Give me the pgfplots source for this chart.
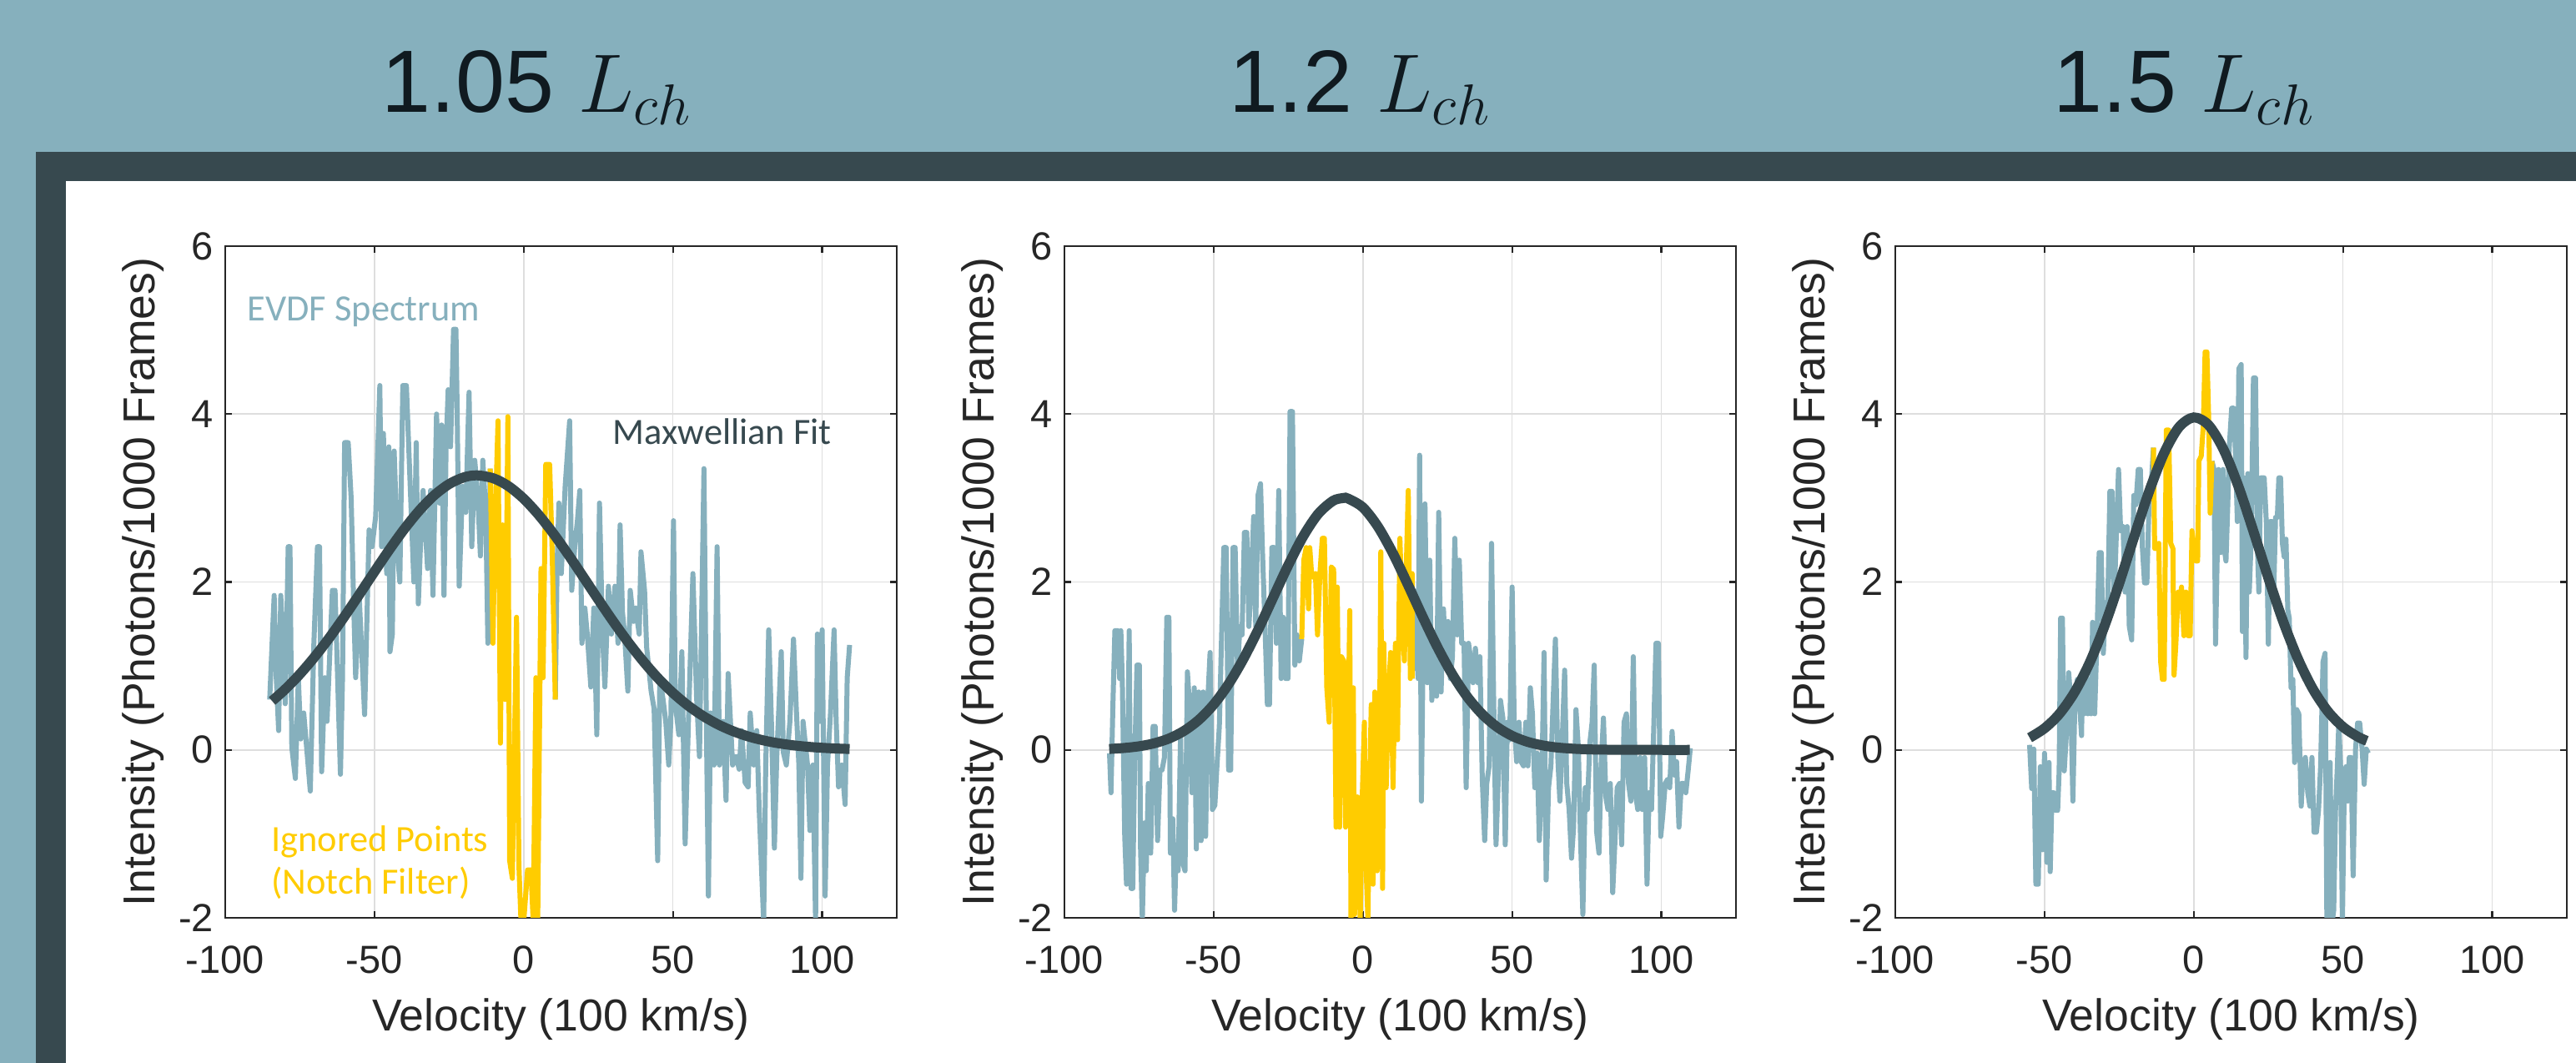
\documentclass[border=0pt]{standalone}
\usepackage{fontspec}
\setmainfont{Liberation Sans}
\newfontfamily\annofont{Carlito}
\usepackage{pgfplots}
\pgfplotsset{compat=1.18}

\definecolor{bgblue}{HTML}{86B0BD}
\definecolor{frame}{HTML}{37494F}
\definecolor{spec}{HTML}{86B0BD}
\definecolor{notch}{HTML}{FFCC00}
\definecolor{fitc}{HTML}{37494F}
\definecolor{axisc}{HTML}{262626}
\definecolor{gridc}{HTML}{DEDEDE}
\definecolor{titlec}{HTML}{101A20}

\pgfplotsset{
  panel/.style={
    scale only axis, width=201.25pt, height=201.25pt, anchor=south west,
    xmin=-100, xmax=125, ymin=-2, ymax=6,
    xtick={-100,-50,0,50,100}, xticklabels={-100,-50,0,50,100},
    ytick={-2,0,2,4,6}, yticklabels={-2,0,2,4,6},
    grid=major, major grid style={line width=0.4pt, draw=gridc},
    axis line style={line width=0.55pt, draw=axisc},
    major tick length=2pt, tick style={line width=0.55pt, draw=axisc},
    tick label style={font=\fontsize{11.75}{14}\selectfont, text=axisc},
    xticklabel style={yshift=-5pt},
    label style={font=\fontsize{13.4}{16}\selectfont, text=axisc},
    xlabel={Velocity (100 km/s)}, ylabel={Intensity (Photons/1000 Frames)},
    xlabel style={at={(axis description cs:0.5,-0.1516)}, anchor=center},
    ylabel style={at={(axis description cs:-0.1217,0.5)}, anchor=center},
  },
  specline/.style={spec, line width=1.5pt, line join=round},
  notchline/.style={notch, line width=1.5pt, line join=round},
  fitline/.style={fitc, line width=3pt, smooth},
}

\begin{document}
\begin{tikzpicture}
\useasboundingbox (0,0) rectangle (772pt,318.5pt);
\fill[bgblue] (0,0) rectangle (772pt,318.5pt);
\fill[frame] (10.75pt,0) rectangle (772pt,273pt);
\fill[white] (19.75pt,0) rectangle (772pt,264.25pt);

% titles
\node[anchor=base west, text=titlec, inner sep=0pt, font=\fontsize{26.5}{30}\selectfont] at (114.25pt,284.75pt) {1.05 $L_{ch}$};
\node[anchor=base west, text=titlec, inner sep=0pt, font=\fontsize{26.5}{30}\selectfont] at (368.25pt,284.75pt) {1.2 $L_{ch}$};
\node[anchor=base west, text=titlec, inner sep=0pt, font=\fontsize{26.5}{30}\selectfont] at (615.25pt,284.75pt) {1.5 $L_{ch}$};

% 1.05 L_ch
\begin{axis}[panel, at={(67.5pt,43.5pt)}]
\addplot[specline] coordinates {
(-85.1,0.60) (-84.3,1.27) (-83.6,1.84) (-82.9,0.86) (-82.1,0.23) (-81.4,1.84) (-80.6,1.27) (-79.9,0.55)
(-78.9,2.42) (-78.3,2.42) (-77.7,0.03) (-76.5,-0.34) (-75.5,0.86) (-74.7,0.13) (-73.7,0.44) (-71.5,-0.49)
(-70.3,1.27) (-69.1,2.42) (-68.4,2.42) (-67.7,-0.26) (-66.6,0.86) (-65.9,0.34) (-64.1,1.90) (-63.2,1.90)
(-61.4,-0.29) (-60.7,0.86) (-60.0,3.66) (-58.8,3.66) (-57.8,2.99) (-57.0,1.79) (-56.3,0.86) (-55.2,1.90)
(-53.3,0.42) (-51.8,2.62) (-50.8,2.42) (-49.6,2.78) (-48.2,4.34) (-47.6,2.42) (-47.0,3.77) (-45.9,2.10)
(-45.2,3.61) (-44.8,1.17) (-44.0,1.38) (-43.4,3.56) (-42.2,2.31) (-41.5,2.00) (-40.5,4.34) (-39.3,4.34)
(-37.8,2.94) (-36.8,2.00) (-36.0,3.66) (-35.3,1.74) (-34.6,2.42) (-33.7,3.09) (-32.2,2.16) (-31.2,3.09)
(-30.4,1.84) (-29.2,4.00) (-28.2,2.94) (-27.5,3.87) (-26.7,1.84) (-26.0,3.61) (-25.3,4.29) (-24.5,3.61)
(-23.5,5.01) (-22.7,5.01) (-22.3,4.08) (-21.6,1.95) (-20.5,3.14) (-19.4,2.83) (-18.3,4.26) (-17.4,2.42)
(-16.4,3.45) (-15.4,3.04) (-14.5,2.31) (-13.7,3.45) (-12.7,2.83) (-12.0,1.27) (-11.2,3.35)
};
\addplot[specline] coordinates {
(10.6,0.60) (11.2,2.21) (11.8,2.94) (12.6,2.10) (13.9,3.14) (15.4,3.92) (16.1,1.90) (17.1,2.42)
(18.0,2.73) (18.8,3.09) (19.5,1.27) (20.5,1.69) (21.3,1.38) (22.5,0.75) (23.5,1.69) (24.5,0.18)
(25.4,2.94) (26.4,1.38) (27.2,0.75) (28.4,1.95) (29.4,1.38) (30.6,1.95) (31.6,1.27) (32.3,2.68)
(33.1,1.64) (33.8,1.38) (34.9,0.70) (35.7,1.90) (36.8,1.53) (37.5,1.69) (38.7,1.38) (39.3,2.36)
(40.5,1.90) (41.2,1.22) (42.7,0.70) (43.7,0.49) (44.9,-1.32) (45.6,0.86) (46.7,0.60) (47.6,0.34)
(48.6,-0.18) (49.3,0.34) (50.2,2.73) (50.8,0.55) (52.0,0.18) (53.0,1.17) (54.1,-1.12) (55.2,0.34)
(56.7,2.10) (57.9,0.65) (58.9,-0.08) (60.4,3.35) (61.2,0.34) (61.9,-1.74) (62.6,0.44) (63.8,-0.18)
(64.8,2.42) (65.6,-0.18) (66.8,0.34) (67.8,-0.60) (68.5,0.91) (70.0,-0.18) (71.2,-0.08) (72.2,-0.23)
(73.0,0.23) (74.2,-0.39) (75.2,-0.44) (75.9,0.44) (77.1,-0.18) (78.1,0.23) (78.9,-0.70) (80.4,-2.05)
(81.1,-0.18) (82.1,1.43) (83.0,0.34) (84.0,-1.17) (84.8,-0.08) (86.3,1.17) (87.0,-0.03) (88.0,-0.18)
(89.2,0.34) (90.4,1.32) (91.4,0.44) (92.2,-0.18) (92.9,-1.53) (93.6,0.34) (95.1,-0.18) (95.9,-0.96)
(96.9,-0.18) (97.8,-2.05) (98.4,1.38) (99.3,0.34) (100.0,1.43) (101.0,-1.74) (101.8,-0.18) (102.8,0.44)
(104.0,1.43) (104.7,0.34) (105.5,-0.44) (106.6,-0.18) (107.7,-0.65) (108.4,0.86) (109.2,1.25)
};
\addplot[notchline] coordinates {
(-11.2,3.35) (-10.3,1.27) (-9.6,2.68) (-8.6,3.92) (-7.8,0.08) (-7.1,2.68) (-6.2,0.60) (-5.3,3.97)
(-4.7,-1.32) (-3.8,-1.53) (-2.4,1.58) (-1.6,-1.38) (-0.9,-2.05) (0.0,-2.05) (1.3,-1.43) (2.4,-1.43)
(3.2,-2.05) (4.1,0.86) (4.7,-2.05) (5.8,2.16) (6.5,0.86) (7.4,3.40) (8.7,3.40) (9.5,2.42) (10.6,0.60)
};
\addplot[fitline] coordinates {
(-84.3,0.583) (-80,0.719) (-75,0.902) (-70,1.110) (-65,1.341) (-60,1.592) (-55,1.855) (-50,2.123)
(-45,2.385) (-40,2.631) (-35,2.850) (-30,3.032) (-25,3.166) (-20,3.247) (-15.6,3.270) (-10,3.233)
(-5,3.139) (0,2.992) (5,2.800) (10,2.574) (15,2.323) (20,2.058) (25,1.791) (30,1.530) (35,1.284)
(40,1.058) (45,0.855) (50,0.679) (55,0.530) (60,0.406) (65,0.305) (70,0.225) (75,0.163) (80,0.116)
(85,0.081) (90,0.056) (95,0.038) (100,0.025) (105,0.016) (109.2,0.011)
};
\node[anchor=base west, inner sep=0pt, text=spec, font=\annofont\fontsize{11.1}{13}\selectfont] at (rel axis cs:0.0323,0.8894) {EVDF Spectrum};
\node[anchor=base west, inner sep=0pt, text=fitc, font=\annofont\fontsize{11.1}{13}\selectfont] at (rel axis cs:0.5762,0.7056) {Maxwellian Fit};
\node[anchor=base west, inner sep=0pt, text=notch, font=\annofont\fontsize{11.1}{13}\selectfont] at (rel axis cs:0.0678,0.0987) {Ignored Points};
\node[anchor=base west, inner sep=0pt, text=notch, font=\annofont\fontsize{11.1}{13}\selectfont] at (rel axis cs:0.0678,0.0348) {(Notch Filter)};
\end{axis}

% 1.2 L_ch
\begin{axis}[panel, at={(319pt,43.5pt)}]
\addplot[specline] coordinates {
(-84.9,-0.04) (-84.4,-0.51) (-83.8,0.48) (-83.1,1.42) (-82.1,1.42) (-81.5,0.85) (-81.1,1.42) (-80.6,0.80)
(-79.8,-1.03) (-79.2,-1.60) (-78.8,-0.19) (-78.3,1.42) (-77.7,-1.65) (-77.1,-1.65) (-76.5,-0.19) (-75.7,1.01)
(-74.9,1.01) (-74.5,-1.18) (-73.9,-2.02) (-73.2,-0.87) (-72.6,-1.44) (-71.9,-0.40) (-71.1,-1.23) (-70.3,0.28)
(-69.6,0.28) (-68.8,-1.08) (-68.0,-0.24) (-67.3,-0.24) (-66.5,-0.09) (-65.7,1.58) (-65.0,1.58) (-64.5,-1.23)
(-63.7,-0.82) (-63.1,-1.91) (-62.5,-1.13) (-61.9,-1.44) (-61.1,0.17) (-60.4,-1.34) (-59.6,-1.44) (-58.8,0.93)
(-58.1,0.54) (-57.3,-0.51) (-56.5,0.74) (-55.8,-1.18) (-55.0,0.69) (-54.2,-1.08) (-53.5,0.69) (-52.7,-1.03)
(-51.9,0.64) (-51.2,1.16) (-50.4,-0.71) (-49.6,-0.66) (-48.9,-0.19) (-48.1,0.28) (-47.3,1.42) (-46.6,2.41)
(-45.8,2.41) (-45.0,-0.24) (-44.3,-0.24) (-43.5,2.41) (-42.8,2.41) (-42.0,0.95) (-41.2,1.47) (-40.5,1.37)
(-39.7,2.59) (-38.9,2.59) (-38.2,1.47) (-37.4,1.99) (-36.6,2.78) (-35.9,1.47) (-35.1,3.04) (-34.3,3.17)
(-33.6,2.31) (-32.8,1.47) (-32.0,0.54) (-31.3,0.54) (-30.5,2.41) (-29.7,2.41) (-29.0,1.27) (-28.2,3.09)
(-27.4,0.85) (-26.7,1.58) (-25.9,0.85) (-25.1,0.85) (-24.4,4.03) (-23.6,4.03) (-22.8,1.01) (-22.1,1.37)
(-21.3,1.06) (-20.5,1.32)
};
\addplot[specline] coordinates {
(16.5,0.85) (17.2,1.37) (17.8,1.89) (18.5,0.85) (19.0,3.51) (19.6,-0.61) (20.2,1.32) (20.8,2.93)
(21.6,0.80) (22.4,2.26) (23.1,0.59) (23.9,1.37) (24.7,0.64) (25.4,2.83) (26.2,0.69) (27.0,1.68)
(27.7,1.06) (28.5,1.53) (29.3,0.85) (30.0,1.11) (30.8,2.52) (31.6,1.37) (32.3,2.26) (33.1,1.27)
(33.9,1.27) (34.6,-0.45) (35.4,1.27) (36.2,1.06) (36.9,0.80) (37.7,1.21) (38.5,0.80) (39.2,1.11)
(40.0,-0.35) (40.8,-1.08) (41.5,-0.40) (42.3,-0.19) (43.1,2.46) (43.8,0.64) (44.6,-1.13) (45.4,-0.30)
(46.1,0.59) (46.9,0.38) (47.7,-1.13) (48.4,0.33) (49.2,0.12) (50.0,1.94) (50.7,0.33) (51.5,-0.14)
(52.3,0.33) (53.0,-0.14) (53.8,-0.19) (54.6,0.33) (55.3,-0.19) (56.1,0.74) (56.8,0.43) (57.6,-0.45)
(58.4,-0.04) (59.1,-1.08) (59.9,-0.45) (60.7,1.16) (61.4,-1.55) (62.2,-0.45) (63.0,-0.19) (63.7,0.54)
(64.5,1.32) (65.3,-0.09) (66.0,-0.61) (66.8,0.12) (67.6,0.95) (68.3,-0.40) (69.1,-0.71) (69.9,-1.29)
(70.6,-0.92) (71.4,0.48) (72.2,0.02) (72.9,-1.03) (73.7,-1.96) (74.5,-0.45) (75.2,-0.71) (76.0,0.07)
(76.8,0.33) (77.5,1.01) (78.3,-0.97) (79.1,-1.23) (79.8,-0.19) (80.6,0.38) (81.4,-0.56) (82.1,-0.71)
(82.9,-0.40) (83.7,-1.70) (84.4,-1.13) (85.2,-0.45) (86.0,-0.40) (86.7,-1.13) (87.5,0.33) (88.3,0.43)
(89.0,-0.40) (89.8,-0.61) (90.6,1.11) (91.3,-0.51) (92.1,-0.71) (92.9,-0.09) (93.6,-0.71) (94.4,-0.09)
(95.2,-1.60) (95.9,-0.51) (96.7,-0.71) (97.5,0.33) (98.2,1.27) (99.0,1.27) (99.8,-1.03) (100.5,-0.77)
(101.3,-0.40) (102.1,-0.35) (102.8,-0.45) (103.6,0.22) (104.4,-0.30) (105.1,-0.14) (105.9,-0.92) (106.7,-0.40)
(107.4,-0.40) (108.2,-0.51) (109.0,-0.24) (109.7,0.02)
};
\addplot[notchline] coordinates {
(-20.5,1.32) (-19.8,2.26) (-19.0,2.41) (-18.2,1.68) (-17.8,2.41) (-17.2,2.10) (-16.4,2.05) (-15.9,2.10)
(-15.2,1.37) (-14.4,2.10) (-13.6,2.52) (-12.9,2.52) (-12.1,0.74) (-11.3,0.33) (-10.6,2.18) (-9.8,2.15)
(-9.0,-0.92) (-8.6,1.94) (-7.8,-0.92) (-7.2,1.11) (-6.4,1.06) (-5.8,-0.92) (-5.2,-0.35) (-4.4,1.66)
(-4.0,-2.05) (-3.2,0.74) (-2.8,-1.96) (-1.8,-0.56) (-0.9,-2.05) (-0.3,-0.66) (0.5,0.33) (0.9,-1.23)
(1.7,-2.05) (2.1,-0.71) (2.8,0.54) (3.4,-1.60) (4.0,0.69) (4.8,-1.44) (5.5,-0.35) (6.0,2.36)
(6.6,-1.65) (7.0,1.27) (7.8,-0.45) (8.6,0.69) (9.3,1.16) (10.1,-0.45) (10.9,1.27) (11.6,0.12)
(12.4,2.52) (13.2,1.63) (13.9,1.06) (14.7,2.41) (15.2,3.09) (15.9,0.85) (16.5,2.10) (16.5,0.85)
};
\addplot[fitline] coordinates {
(-85,0.011) (-80,0.023) (-75,0.043) (-70,0.078) (-65,0.135) (-60,0.225) (-55,0.357) (-50,0.541)
(-45,0.784) (-40,1.086) (-35,1.438) (-30,1.820) (-25,2.200) (-20,2.544) (-15,2.810) (-10,2.967)
(-6.5,3.000) (-5,2.994) (0,2.888) (5,2.661) (10,2.345) (15,1.974) (20,1.588) (25,1.222) (30,0.898)
(35,0.631) (40,0.424) (45,0.272) (50,0.167) (55,0.098) (60,0.055) (65,0.029) (70,0.015) (75,0.007)
(80,0.003) (90,0.001) (100,0.0) (109.5,0.0)
};
\end{axis}

% 1.5 L_ch
\begin{axis}[panel, at={(568pt,43.5pt)}]
\addplot[specline] coordinates {
(-55.0,0.06) (-54.3,-0.46) (-53.6,0.01) (-52.9,-1.60) (-52.1,-1.60) (-51.4,-0.20) (-50.7,-1.19) (-50.0,-0.04)
(-49.2,-1.34) (-48.5,-0.15) (-48.1,-1.45) (-47.5,-0.51) (-46.9,-0.51) (-46.3,-0.72) (-45.6,-0.72) (-45.1,-0.25)
(-44.6,1.57) (-44.0,1.57) (-43.4,-0.25) (-42.7,0.17) (-41.9,0.92) (-41.2,0.58) (-40.5,-0.61) (-39.8,0.63)
(-39.0,0.84) (-38.3,0.58) (-37.6,0.17) (-37.3,0.84) (-36.7,0.43) (-36.1,0.95) (-35.5,0.43) (-35.0,0.53)
(-34.4,0.43) (-33.9,1.52) (-33.2,0.43) (-32.5,1.26) (-31.7,2.35) (-31.0,2.35) (-30.3,1.15) (-29.6,1.73)
(-28.8,1.78) (-28.1,3.08) (-27.4,3.08) (-26.7,1.73) (-25.9,2.61) (-25.2,3.34) (-24.5,2.61) (-23.7,2.66)
(-23.0,1.88) (-22.3,2.66) (-21.6,1.47) (-20.8,1.31) (-20.1,3.03) (-19.4,2.92) (-18.6,3.34) (-17.9,3.34)
(-17.2,2.40) (-16.5,1.99) (-15.7,1.99) (-15.0,2.92) (-14.3,3.13) (-13.5,3.60)
};
\addplot[specline] coordinates {
(6.1,3.44) (6.8,3.34) (7.3,1.26) (7.9,2.40) (8.3,3.34) (9.0,2.35) (9.8,3.34) (10.2,2.40)
(10.8,2.25) (11.4,2.92) (11.9,3.60) (12.7,4.07) (13.4,4.07) (14.0,3.50) (14.6,2.72) (15.1,4.54)
(15.9,4.59) (16.3,1.41) (16.9,3.24) (17.5,1.10) (18.1,3.29) (18.6,1.88) (19.2,2.46) (20.0,4.43)
(20.7,4.43) (21.3,2.46) (21.8,1.88) (22.4,3.24) (23.6,3.24) (24.3,2.72) (25.0,1.26) (25.6,2.72)
(26.2,2.72) (26.8,1.88) (27.4,2.77) (28.0,2.77) (28.5,3.24) (29.1,3.24) (29.7,2.46) (30.3,2.30)
(30.9,2.51) (31.5,1.67) (32.0,1.57) (32.6,0.74) (33.2,0.84) (33.8,-0.15) (34.5,0.48) (35.2,0.43)
(36.0,-0.67) (36.7,-0.20) (37.4,-0.09) (38.2,-0.51) (38.9,-0.67) (39.6,-0.09) (40.3,-0.98) (41.1,-0.98)
(41.8,-0.72) (42.5,-0.20) (43.3,1.05) (44.0,1.15) (44.6,-2.07) (45.1,-0.35) (45.7,-0.15) (46.3,-2.07)
(46.9,-1.91) (47.5,-0.72) (48.1,-0.20) (48.6,0.32) (49.2,-0.20) (49.8,-2.07) (50.4,-0.51) (51.0,-0.20)
(51.6,-0.61) (52.1,-0.09) (52.7,-0.09) (53.4,-1.50) (54.2,0.01) (54.9,0.32) (55.6,0.32) (56.4,0.01)
(57.1,-0.41) (57.8,0.01) (58.5,-0.04)
};
\addplot[notchline] coordinates {
(-13.5,3.60) (-13.1,2.40) (-12.4,2.40) (-11.7,2.46) (-11.1,1.05) (-10.5,0.84) (-9.9,0.84) (-9.2,3.81)
(-8.4,3.81) (-7.7,2.46) (-7.0,2.40) (-6.6,0.89) (-6.0,1.26) (-5.2,1.88) (-4.7,1.73) (-4.1,1.94)
(-3.3,1.36) (-2.6,1.88) (-1.9,1.36) (-1.2,1.36) (-0.6,2.61) (0.0,2.40) (0.7,2.25) (1.3,2.25)
(1.7,3.44) (2.5,3.50) (3.2,3.86) (3.8,4.74) (4.4,4.74) (5.0,3.96) (5.5,2.82) (6.1,3.44)
};
\addplot[fitline] coordinates {
(-55,0.145) (-50,0.257) (-45,0.430) (-40,0.683) (-35,1.029) (-30,1.467) (-25,1.982) (-20,2.536)
(-15,3.074) (-10,3.531) (-5,3.842) (0,3.960) (5,3.867) (10,3.577) (15,3.135) (20,2.603) (25,2.047)
(30,1.525) (35,1.077) (40,0.720) (45,0.456) (50,0.274) (55,0.156) (58,0.108)
};
\end{axis}
\end{tikzpicture}
\end{document}
